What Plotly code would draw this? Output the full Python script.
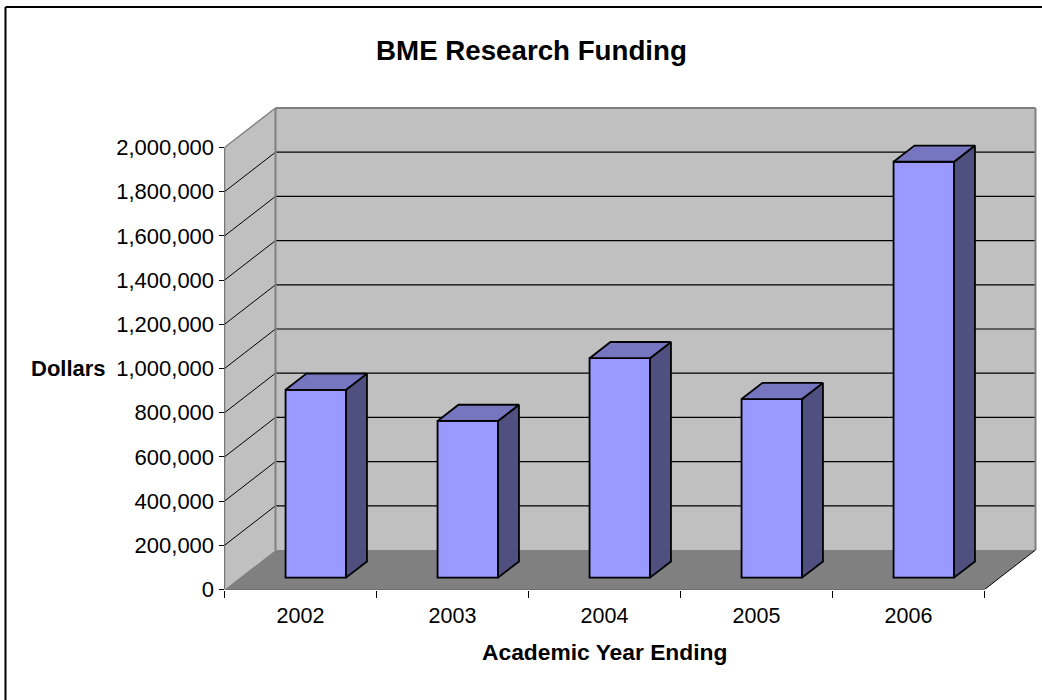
import plotly.graph_objects as go

# ---- data ----
categories = ["2002", "2003", "2004", "2005", "2006"]
funding = [850000, 709000, 993000, 808000, 1882000]
y_ticks = [0, 200000, 400000, 600000, 800000, 1000000, 1200000, 1400000, 1600000, 1800000, 2000000]

# ---- pixel layout of the picture, used only to derive the axes' domains ----
W, H = 1042, 700
X0, X1 = 224.5, 1037.5      # axis start, plot right
Y0, Y1 = 589.5, 104.0       # y=0 pixel, plot top
PX_PER_CAT = 152.0
PX_PER_DOLLAR = 442.0 / 2000000

n = len(categories)
x_max = (X1 - X0) / PX_PER_CAT
y_max = (Y0 - Y1) / PX_PER_DOLLAR

# oblique projection: depth d (0 front .. 1 back) in axis units
DX = 51.0 / PX_PER_CAT
DY = 39.5 / PX_PER_DOLLAR
Y_TOP = y_ticks[-1]

def P(x, y, d=0.0):
    return x + d * DX, y + d * DY

def poly_path(pts):
    return "M " + " L ".join(f"{a},{b}" for a, b in pts) + " Z"

BLACK = "#000000"
GRAY = "#808080"
WALL = "#C0C0C0"
FRONT = "#9999FF"
SIDE = "#4F4F80"
TOP = "#7676C0"

shapes = []
def add_poly(pts, fill, line=None, width=0):
    shapes.append(dict(type="path", path=poly_path(pts), fillcolor=fill, layer="below",
                       line=dict(color=line or fill, width=width), xref="x", yref="y"))

def add_line(a, b, color, width):
    shapes.append(dict(type="line", x0=a[0], y0=a[1], x1=b[0], y1=b[1], layer="below",
                       line=dict(color=color, width=width), xref="x", yref="y"))

# walls and floor
add_poly([P(0, 0, 1), P(n, 0, 1), P(n, Y_TOP, 1), P(0, Y_TOP, 1)], WALL)
add_poly([P(0, 0), P(0, 0, 1), P(0, Y_TOP, 1), P(0, Y_TOP)], WALL)
add_poly([P(0, 0), P(n, 0), P(n, 0, 1), P(0, 0, 1)], GRAY)

# grid lines on both walls
for v in y_ticks[1:-1]:
    add_line(P(0, v), P(0, v, 1), BLACK, 1)
    add_line(P(0, v, 1), P(n, v, 1), BLACK, 1.2)

# wall edges
add_line(P(0, 0, 1), P(0, Y_TOP, 1), GRAY, 2)
add_line(P(0, Y_TOP), P(0, Y_TOP, 1), GRAY, 1.5)
add_line(P(0, Y_TOP, 1), P(n, Y_TOP, 1), GRAY, 2)
add_line(P(n, 0, 1), P(n, Y_TOP, 1), GRAY, 2)
add_line(P(n, 0), P(n, 0, 1), BLACK, 1)
# axis lines
add_line(P(0, 0), P(0, Y_TOP), BLACK, 1.2)
add_line(P(0, 0), P(n, 0), BLACK, 1.2)

# frame of the picture (only the left and top sides show)
frame = dict(color=BLACK, width=2)
shapes.append(dict(type="line", xref="paper", yref="paper", x0=5.5 / W, x1=5.5 / W, y0=0, y1=1 - 7 / H, line=frame))
shapes.append(dict(type="line", xref="paper", yref="paper", x0=5.5 / W, x1=1, y0=1 - 7 / H, y1=1 - 7 / H, line=frame))

# bars
BAR_W = 60.5 / PX_PER_CAT
D_FRONT = 0.30
D_BACK = 0.71
centers = [i + 0.5 for i in range(n)]
bar_x = [P(c, 0, D_FRONT)[0] for c in centers]
bar_base = P(0, 0, D_FRONT)[1]

fig = go.Figure()
fig.add_trace(go.Bar(x=bar_x, y=funding, base=bar_base, width=BAR_W, marker=dict(color=FRONT, line=dict(color=BLACK, width=1.8)),
                     showlegend=False, hoverinfo="skip"))

for c, v in zip(centers, funding):
    l, r = c - BAR_W / 2, c + BAR_W / 2
    side = [P(r, 0, D_FRONT), P(r, 0, D_BACK), P(r, v, D_BACK), P(r, v, D_FRONT), P(r, 0, D_FRONT)]
    top = [P(l, v, D_FRONT), P(r, v, D_FRONT), P(r, v, D_BACK), P(l, v, D_BACK), P(l, v, D_FRONT)]
    for pts, col in ((side, SIDE), (top, TOP)):
        fig.add_trace(go.Scatter(x=[p[0] for p in pts], y=[p[1] for p in pts], mode="lines",
                                 fill="toself", fillcolor=col, line=dict(color=BLACK, width=1.8),
                                 showlegend=False, hoverinfo="skip"))

FONT = "Liberation Sans, Arial, sans-serif"
fig.update_layout(
    width=W, height=H, margin=dict(l=0, r=0, t=0, b=0, pad=0, autoexpand=False),
    paper_bgcolor="white", plot_bgcolor="white", showlegend=False,
    font=dict(family=FONT, size=22, color=BLACK),
    title=dict(text="<b>BME Research Funding</b>", x=531.5 / W, xanchor="center", y=1 - 50 / H, yanchor="middle",
               font=dict(family=FONT, size=27.7, color=BLACK)),
    shapes=shapes,
    xaxis=dict(domain=[X0 / W, X1 / W], range=[0, x_max], showgrid=False, zeroline=False, showline=False, automargin=False,
               tickvals=centers, ticktext=categories, ticks="", ticklabelstandoff=11,
               tickfont=dict(family=FONT, size=21.5, color=BLACK),
               minor=dict(tickvals=list(range(n + 1)), ticks="outside", ticklen=7, tickwidth=1, tickcolor=BLACK, showgrid=False)),
    yaxis=dict(domain=[1 - Y0 / H, 1 - Y1 / H], range=[0, y_max], showgrid=False, zeroline=False, showline=False, automargin=False,
               tickvals=y_ticks, tickformat=",", ticks="outside", ticklen=5, tickwidth=1, tickcolor=BLACK,
               tickfont=dict(family=FONT, size=22, color=BLACK)),
    annotations=[
        dict(text="<b>Dollars</b>", xref="paper", yref="paper", x=68 / W, y=1 - 368 / H, xanchor="center", yanchor="middle",
             showarrow=False, font=dict(family=FONT, size=22, color=BLACK)),
        dict(text="<b>Academic Year Ending</b>", xref="paper", yref="paper", x=604.5 / W, y=1 - 652 / H, xanchor="center",
             yanchor="middle", showarrow=False, font=dict(family=FONT, size=22.8, color=BLACK)),
    ],
)

fig.write_html("out.html", config=dict(displayModeBar=False), post_script="document.body.style.margin='0';")
